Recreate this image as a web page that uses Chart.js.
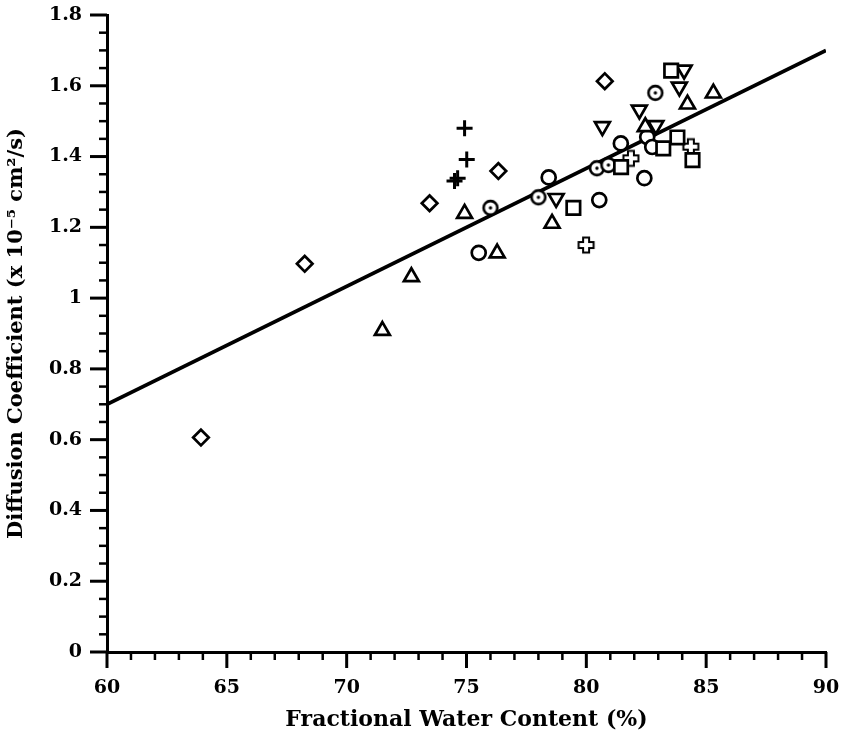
<!DOCTYPE html>
<html>
<head>
<meta charset="utf-8">
<title>Diffusion Coefficient vs Water Content</title>
<script src="https://cdn.jsdelivr.net/npm/chart.js@4.4.1/dist/chart.umd.min.js"></script>
<style>
  body { margin: 0; background: #fff; }
  #graphCanvas { display: block; }
</style>
</head>
<body>
<canvas id="graphCanvas" width="844" height="738"></canvas>
<script>
// valores
const xTickLabels = ['60', '65', '70', '75', '80', '85', '90'];
const yTickLabels = ['0', '0.2', '0.4', '0.6', '0.8', '1', '1.2', '1.4', '1.6', '1.8'];

const squareX = [79.46, 81.45, 83.21, 83.80, 83.54, 84.43];
const squareY = [1.255, 1.370, 1.423, 1.454, 1.643, 1.390];

const openCrossX = [79.99, 81.86, 84.36];
const openCrossY = [1.150, 1.395, 1.428];

const triDownX = [78.74, 80.67, 82.21, 82.90, 83.88, 84.08];
const triDownY = [1.282, 1.485, 1.532, 1.488, 1.597, 1.645];

const triUpX = [71.49, 72.70, 74.92, 76.28, 78.57, 82.46, 84.22, 85.30];
const triUpY = [0.908, 1.060, 1.239, 1.127, 1.211, 1.484, 1.548, 1.579];

const dotCircleX = [76.00, 78.00, 80.44, 80.92, 82.88];
const dotCircleY = [1.255, 1.285, 1.367, 1.376, 1.580];

const circleX = [75.51, 78.43, 80.54, 81.44, 82.42, 82.54, 82.75];
const circleY = [1.128, 1.341, 1.277, 1.437, 1.339, 1.455, 1.427];

const diamondX = [63.92, 68.25, 73.46, 76.33, 80.77];
const diamondY = [0.606, 1.097, 1.268, 1.359, 1.613];

const plusX = [74.92, 75.01, 74.50, 74.63];
const plusY = [1.480, 1.392, 1.331, 1.339];

const fitX = [60, 90];
const fitY = [0.70, 1.70];

const FONT = "'DejaVu Serif', 'Liberation Serif', serif";

function toPoints(xs, ys) {
    return xs.map((x, i) => ({ x: x, y: ys[i] }));
}

// marcadores dibujados a mano (circulo con punto y cruz hueca)
function makeDotCircle() {
    const c = document.createElement('canvas');
    c.width = 20; c.height = 20;
    const g = c.getContext('2d');
    g.fillStyle = '#fff';
    g.strokeStyle = '#000';
    g.lineWidth = 2.6;
    g.beginPath();
    g.arc(10, 10, 6.9, 0, Math.PI * 2);
    g.fill();
    g.stroke();
    g.fillStyle = '#000';
    g.beginPath();
    g.arc(10, 10, 1.7, 0, Math.PI * 2);
    g.fill();
    return c;
}

function makeOpenCross() {
    const c = document.createElement('canvas');
    c.width = 20; c.height = 20;
    const g = c.getContext('2d');
    const a = 3, b = 7.5, m = 10;
    g.fillStyle = '#fff';
    g.strokeStyle = '#000';
    g.lineWidth = 2;
    g.beginPath();
    g.moveTo(m - a, m - b);
    g.lineTo(m + a, m - b);
    g.lineTo(m + a, m - a);
    g.lineTo(m + b, m - a);
    g.lineTo(m + b, m + a);
    g.lineTo(m + a, m + a);
    g.lineTo(m + a, m + b);
    g.lineTo(m - a, m + b);
    g.lineTo(m - a, m + a);
    g.lineTo(m - b, m + a);
    g.lineTo(m - b, m - a);
    g.lineTo(m - a, m - a);
    g.closePath();
    g.fill();
    g.stroke();
    return c;
}

function markerSet(xs, ys, style, radius, extra) {
    return Object.assign({
        type: 'scatter',
        data: toPoints(xs, ys),
        pointStyle: style,
        pointRadius: radius,
        pointBorderWidth: 2.7,
        pointBorderColor: '#000',
        pointBackgroundColor: '#fff',
        showLine: false,
    }, extra || {});
}

// ticks hacia afuera: mayores largos, menores cortos
const outerTicks = {
    id: 'outerTicks',
    afterDraw(chart) {
        const ctx = chart.ctx;
        const xs = chart.scales.x;
        const ys = chart.scales.y;
        const area = chart.chartArea;
        ctx.save();
        ctx.strokeStyle = '#000';
        ctx.lineCap = 'butt';
        for (let v = 60; v <= 90; v++) {
            const px = xs.getPixelForValue(v);
            const major = v % 5 === 0;
            ctx.lineWidth = major ? 3 : 2.5;
            ctx.beginPath();
            ctx.moveTo(px, area.bottom);
            ctx.lineTo(px, area.bottom + (major ? 16 : 8));
            ctx.stroke();
        }
        for (let i = 0; i <= 36; i++) {
            const py = ys.getPixelForValue(i * 0.05);
            const major = i % 4 === 0;
            ctx.lineWidth = major ? 3 : 2.5;
            ctx.beginPath();
            ctx.moveTo(area.left, py);
            ctx.lineTo(area.left - (major ? 17 : 8), py);
            ctx.stroke();
        }
        ctx.restore();
    }
};

// sin relleno extra de las escalas: el area queda fija
function noScalePad(scale) {
    scale.paddingTop = 0;
    scale.paddingBottom = 0;
    scale.paddingLeft = 0;
    scale.paddingRight = 0;
}

const ctx = document.getElementById('graphCanvas').getContext('2d');

const chart = new Chart(ctx, {
    type: 'scatter',
    data: {
        datasets: [
            markerSet(squareX, squareY, 'rect', 9.5),
            markerSet(openCrossX, openCrossY, makeOpenCross(), 8),
            markerSet(triDownX, triDownY, 'triangle', 8.6, { pointRotation: 180 }),
            markerSet(triUpX, triUpY, 'triangle', 8.6),
            markerSet(dotCircleX, dotCircleY, makeDotCircle(), 8),
            markerSet(circleX, circleY, 'circle', 7),
            markerSet(diamondX, diamondY, 'rectRot', 7.8),
            markerSet(plusX, plusY, 'cross', 8, { pointBorderWidth: 3 }),
            {
                type: 'line',
                data: toPoints(fitX, fitY),
                borderColor: '#000',
                borderWidth: 3.8,
                pointRadius: 0,
                fill: false,
                tension: 0,
            },
        ],
    },
    options: {
        responsive: false,
        animation: false,
        layout: { padding: { left: 0, right: 18, top: 15, bottom: 0 } },
        plugins: {
            legend: { display: false },
            tooltip: { enabled: false },
        },
        scales: {
            x: {
                type: 'linear',
                position: 'bottom',
                min: 60,
                max: 90,
                grid: { display: false, drawTicks: false },
                border: { display: true, color: '#000', width: 3 },
                ticks: {
                    stepSize: 5,
                    padding: 25,
                    color: '#000',
                    font: { family: FONT, size: 19, weight: 'bold' },
                    maxRotation: 0,
                    callback: (v, i) => xTickLabels[i],
                },
                title: {
                    display: true,
                    text: 'Fractional Water Content (%)',
                    color: '#000',
                    padding: { top: 4, bottom: 5 },
                    font: { family: FONT, size: 22, weight: 'bold' },
                },
                afterFit(scale) {
                    scale.height = 86;
                    noScalePad(scale);
                },
            },
            y: {
                type: 'linear',
                min: 0,
                max: 1.8,
                grid: { display: false, drawTicks: false },
                border: { display: true, color: '#000', width: 3 },
                ticks: {
                    stepSize: 0.2,
                    padding: 25,
                    color: '#000',
                    font: { family: FONT, size: 19, weight: 'bold' },
                    callback: (v, i) => yTickLabels[i],
                },
                title: {
                    display: true,
                    text: 'Diffusion Coefficient (x 10\u207B\u2075 cm\u00B2/s)',
                    color: '#000',
                    padding: { top: 4, bottom: 4 },
                    font: { family: FONT, size: 21, weight: 'bold' },
                },
                afterFit(scale) {
                    scale.width = 107;
                    noScalePad(scale);
                },
            },
        },
    },
    plugins: [outerTicks],
});
</script>
</body>
</html>
